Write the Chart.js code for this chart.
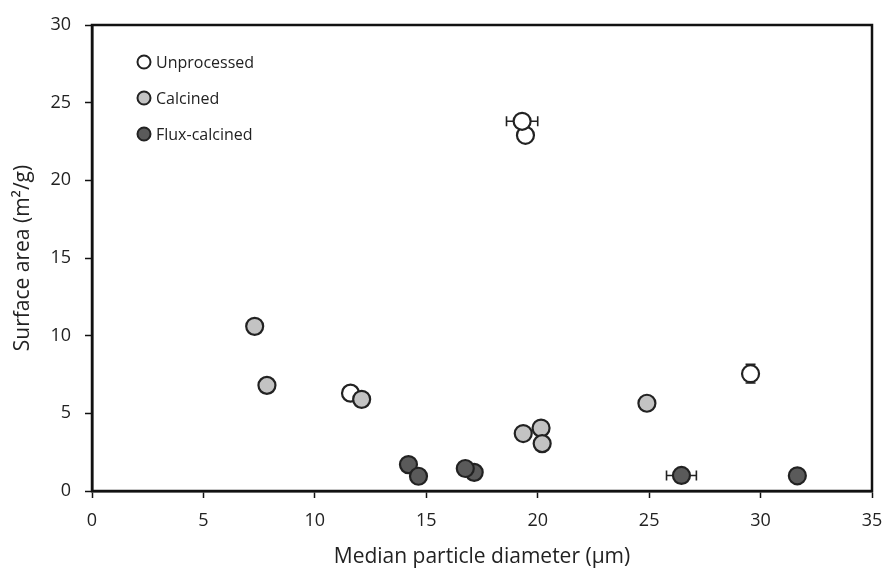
<!DOCTYPE html>
<html>
<head>
<meta charset="utf-8">
<script src="https://cdn.jsdelivr.net/npm/chart.js@4.4.1/dist/chart.umd.min.js"></script>
<style>
  html, body { margin: 0; padding: 0; background: #fff; }
  #wrap { width: 885px; height: 574px; }
</style>
</head>
<body>
<div id="wrap"><canvas id="chart" width="885" height="574"></canvas></div>
<script>
  // samples: median diameter (µm), surface area (m²/g), error bar half-widths
  const unprocX    = [19.45, 19.3, 11.6, 29.55];
  const unprocY    = [22.9, 23.8, 6.3, 7.55];
  const unprocXErr = [0, 0.7, 0, 0];
  const unprocYErr = [0, 0, 0, 0.6];

  const calcX = [7.3, 7.85, 12.1, 19.35, 20.15, 20.2, 24.9];
  const calcY = [10.6, 6.8, 5.9, 3.7, 4.05, 3.05, 5.65];

  const fluxX    = [14.2, 14.65, 17.15, 16.75, 26.45, 31.65];
  const fluxY    = [1.7, 0.95, 1.2, 1.45, 1.0, 0.98];
  const fluxXErr = [0, 0, 0, 0, 0.67, 0];

  const xTicks = [0, 5, 10, 15, 20, 25, 30, 35];
  const yTicks = [0, 5, 10, 15, 20, 25, 30];

  const FONT = "'Open Sans', sans-serif";
  const INK = '#222';

  function pts(xs, ys, xe, ye) {
    return xs.map((x, i) => ({ x, y: ys[i], xErr: xe ? xe[i] : 0, yErr: ye ? ye[i] : 0 }));
  }

  const datasets = [
    { label: 'Unprocessed', data: pts(unprocX, unprocY, unprocXErr, unprocYErr), backgroundColor: '#ffffff', order: 3 },
    { label: 'Calcined', data: pts(calcX, calcY), backgroundColor: '#c3c3c3', order: 2 },
    { label: 'Flux-calcined', data: pts(fluxX, fluxY, fluxXErr), backgroundColor: '#5a5a5a', order: 1 }
  ].map(d => ({ ...d, borderColor: INK, borderWidth: 2.2, pointRadius: 8.5, pointHoverRadius: 8.5 }));

  // error bars sit underneath the markers
  const errorBars = {
    id: 'errorBars',
    beforeDatasetsDraw(chart) {
      const { ctx, scales: { x, y } } = chart;
      const cap = 5;
      ctx.save();
      ctx.strokeStyle = INK;
      ctx.lineWidth = 1.6;
      chart.data.datasets.forEach(ds => {
        ds.data.forEach(p => {
          const px = x.getPixelForValue(p.x), py = y.getPixelForValue(p.y);
          ctx.beginPath();
          if (p.xErr) {
            const a = x.getPixelForValue(p.x - p.xErr), b = x.getPixelForValue(p.x + p.xErr);
            ctx.moveTo(a, py); ctx.lineTo(b, py);
            ctx.moveTo(a, py - cap); ctx.lineTo(a, py + cap);
            ctx.moveTo(b, py - cap); ctx.lineTo(b, py + cap);
          }
          if (p.yErr) {
            const a = y.getPixelForValue(p.y - p.yErr), b = y.getPixelForValue(p.y + p.yErr);
            ctx.moveTo(px, a); ctx.lineTo(px, b);
            ctx.moveTo(px - cap, a); ctx.lineTo(px + cap, a);
            ctx.moveTo(px - cap, b); ctx.lineTo(px + cap, b);
          }
          ctx.stroke();
        });
      });
      ctx.restore();
    }
  };

  // closed frame around the plot plus the legend inside it
  const frameAndKey = {
    id: 'frameAndKey',
    afterDraw(chart) {
      const { ctx, chartArea: a } = chart;
      ctx.save();
      ctx.strokeStyle = '#111';
      ctx.lineWidth = 2.5;
      ctx.strokeRect(a.left, a.top, a.right - a.left, a.bottom - a.top);

      ctx.font = '16px ' + FONT;
      ctx.textBaseline = 'middle';
      chart.data.datasets.forEach((ds, i) => {
        const cx = a.left + 52, cy = a.top + 37 + i * 36;
        ctx.beginPath();
        ctx.arc(cx, cy, 6.5, 0, Math.PI * 2);
        ctx.fillStyle = ds.backgroundColor;
        ctx.fill();
        ctx.lineWidth = 2;
        ctx.strokeStyle = INK;
        ctx.stroke();
        ctx.fillStyle = INK;
        ctx.fillText(ds.label, cx + 12, cy + 1);
      });
      ctx.restore();
    }
  };

  new Chart(document.getElementById('chart'), {
    type: 'scatter',
    data: { datasets },
    options: {
      responsive: false,
      animation: false,
      layout: { padding: { top: 25, right: 13, left: 0, bottom: 0 } },
      plugins: { legend: { display: false }, tooltip: { enabled: false } },
      scales: {
        x: {
          min: 0, max: 35,
          afterBuildTicks: s => { s.ticks = xTicks.map(v => ({ value: v })); },
          afterFit: s => { s.height = 83; s.paddingLeft = 0; s.paddingRight = 0; },
          border: { color: '#111', width: 2.5 },
          grid: { drawOnChartArea: false, drawTicks: true, tickLength: 7, tickColor: '#111', tickWidth: 1.5 },
          ticks: { color: INK, font: { family: FONT, size: 18 }, padding: 12, maxRotation: 0 },
          title: { display: true, text: 'Median particle diameter (µm)', color: INK, font: { family: FONT, size: 21 }, padding: { top: 4 } }
        },
        y: {
          min: 0, max: 30,
          afterBuildTicks: s => { s.ticks = yTicks.map(v => ({ value: v })); },
          afterFit: s => { s.width = 92; s.paddingTop = 0; s.paddingBottom = 0; },
          border: { color: '#111', width: 2.5 },
          grid: { drawOnChartArea: false, drawTicks: true, tickLength: 7, tickColor: '#111', tickWidth: 1.5 },
          ticks: { color: INK, font: { family: FONT, size: 18 }, padding: 14 },
          title: { display: true, text: 'Surface area (m²/g)', color: INK, font: { family: FONT, size: 21 }, padding: { top: 10, bottom: 4 } }
        }
      }
    },
    plugins: [errorBars, frameAndKey]
  });
</script>
</body>
</html>
